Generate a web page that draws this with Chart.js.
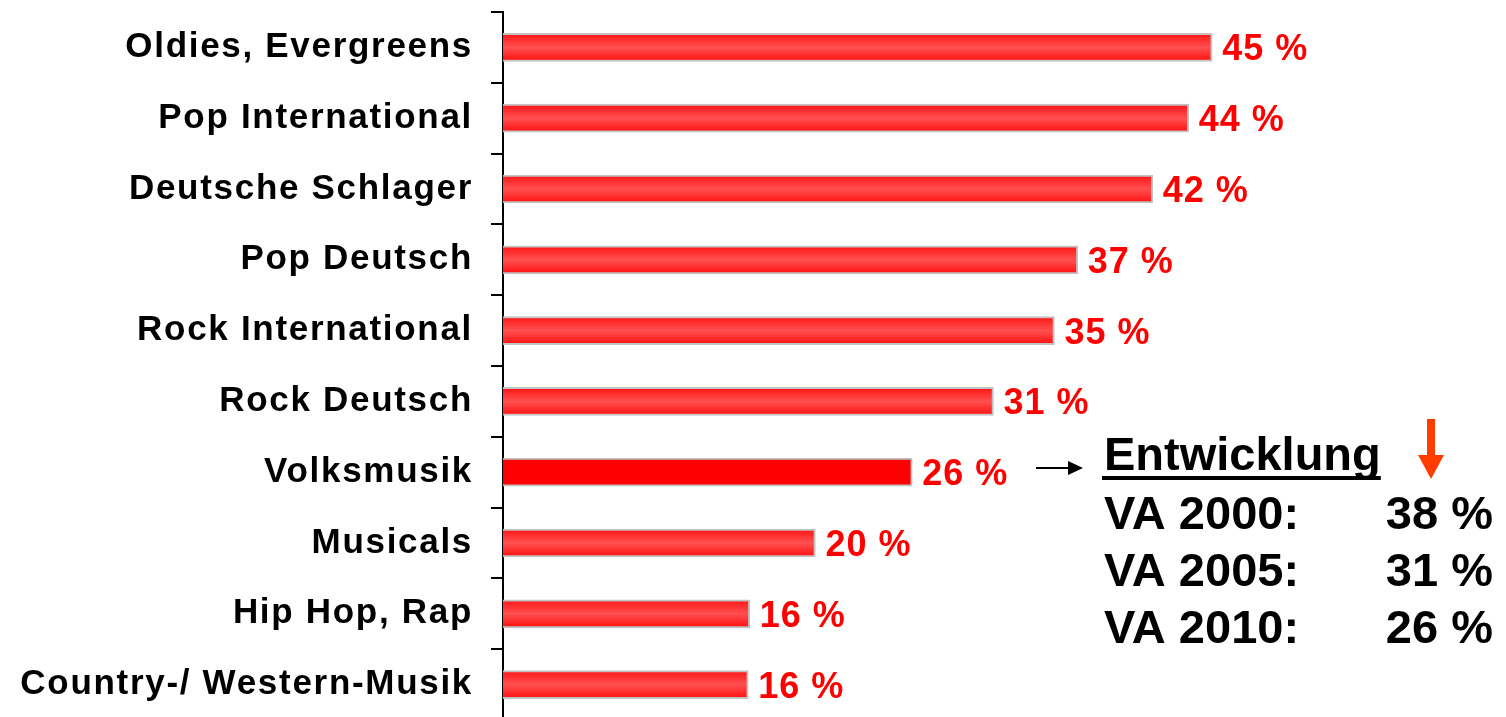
<!DOCTYPE html>
<html><head><meta charset="utf-8">
<script src="https://cdn.jsdelivr.net/npm/chart.js@4.4.1/dist/chart.umd.min.js"></script>
<style>html,body{margin:0;padding:0;background:#fff;overflow:hidden}#wrap{position:relative;width:1506px;height:724px}</style>
</head><body><div id="wrap"><canvas id="c"></canvas></div>
<script>
const categories = ['Oldies, Evergreens', 'Pop International', 'Deutsche Schlager', 'Pop Deutsch', 'Rock International', 'Rock Deutsch', 'Volksmusik', 'Musicals', 'Hip Hop, Rap', 'Country-/ Western-Musik'];
const values = [45.4, 43.9, 41.6, 36.8, 35.3, 31.4, 26.2, 20.0, 15.8, 15.7];
const valueLabels = values.map(v => Math.round(v) + ' %');
const highlightCategory = 'Volksmusik';
const trendTitle = 'Entwicklung';
const trendYears = ['VA 2000:', 'VA 2005:', 'VA 2010:'];
const trendValues = ['38 %', '31 %', '26 %'];

const FONT = '"Liberation Sans", Arial, Helvetica, sans-serif';

function barFill(c) {
  const chart = c.chart;
  if (c.type !== 'data') return '#ff3333';
  if (categories[c.dataIndex] === highlightCategory) return '#ff0000';
  const y = chart.scales.y;
  if (!y || !chart.chartArea) return '#ff3333';
  const mid = y.getPixelForValue(c.dataIndex);
  const h = 28;
  const g = chart.ctx.createLinearGradient(0, mid - h / 2, 0, mid + h / 2);
  g.addColorStop(0, '#ff1414');
  g.addColorStop(0.5, '#ff5050');
  g.addColorStop(1, '#ff0e0e');
  return g;
}

const decor = {
  id: 'decor',
  beforeDraw(chart) { chart.ctx.letterSpacing = '1.7px'; },
  beforeDatasetsDraw(chart) { chart.ctx.letterSpacing = '0px'; },
  afterDatasetsDraw(chart) {
    const ctx = chart.ctx;
    const meta = chart.getDatasetMeta(0);
    ctx.save();
    ctx.letterSpacing = '1px';
    ctx.font = 'bold 36px ' + FONT;
    ctx.fillStyle = '#ff0000';
    ctx.textAlign = 'left';
    ctx.textBaseline = 'alphabetic';
    meta.data.forEach((bar, i) => {
      ctx.fillText(valueLabels[i], bar.x + 10, bar.y + 13);
    });
    ctx.restore();
  },
  afterDraw(chart) {
    const ctx = chart.ctx;
    ctx.save();
    ctx.letterSpacing = '0px';
    ctx.strokeStyle = '#000'; ctx.lineWidth = 2;
    ctx.beginPath(); ctx.moveTo(1036, 468); ctx.lineTo(1072, 468); ctx.stroke();
    ctx.fillStyle = '#000';
    ctx.beginPath(); ctx.moveTo(1083, 468); ctx.lineTo(1068, 461); ctx.lineTo(1068, 475); ctx.closePath(); ctx.fill();
    ctx.font = 'bold 47px ' + FONT;
    ctx.textBaseline = 'alphabetic';
    ctx.textAlign = 'left';
    ctx.fillText(trendTitle, 1104, 470);
    const tw = ctx.measureText(trendTitle).width;
    ctx.fillRect(1102, 476, tw + 2, 4);
    ctx.fillStyle = '#ff3c00';
    ctx.fillRect(1427, 419, 8, 38);
    ctx.beginPath(); ctx.moveTo(1418, 455); ctx.lineTo(1444, 455); ctx.lineTo(1431, 479); ctx.closePath(); ctx.fill();
    ctx.fillStyle = '#000';
    const base = [529, 586, 643];
    trendYears.forEach((t, i) => {
      ctx.textAlign = 'left';
      ctx.fillText(t, 1104, base[i]);
      ctx.textAlign = 'right';
      ctx.fillText(trendValues[i], 1493, base[i]);
    });
    ctx.restore();
  }
};

new Chart(document.getElementById('c'), {
  type: 'bar',
  data: {
    labels: categories,
    datasets: [{
      data: values,
      backgroundColor: barFill,
      borderColor: '#c2c2c2',
      borderWidth: 2,
      borderSkipped: 'start',
      barThickness: 28
    }]
  },
  options: {
    indexAxis: 'y',
    responsive: true,
    maintainAspectRatio: false,
    animation: false,
    events: [],
    layout: { padding: { top: 12, right: 222, bottom: 4, left: 0 } },
    plugins: { legend: { display: false }, tooltip: { enabled: false }, title: { display: false } },
    scales: {
      x: { display: false, min: 0, max: 50 },
      y: {
        offset: true,
        grid: { display: true, drawOnChartArea: false, drawTicks: true, tickLength: 12, tickColor: '#000', tickWidth: 2, lineWidth: 2, offset: true },
        border: { display: true, color: '#000', width: 2 },
        ticks: { color: '#000', autoSkip: false, padding: 18, font: { family: FONT, size: 35, weight: 'bold' } },
        afterFit(s) { s.width = 503; s.paddingTop = 0; s.paddingBottom = 0; }
      }
    }
  },
  plugins: [decor]
});
</script>
</body></html>
